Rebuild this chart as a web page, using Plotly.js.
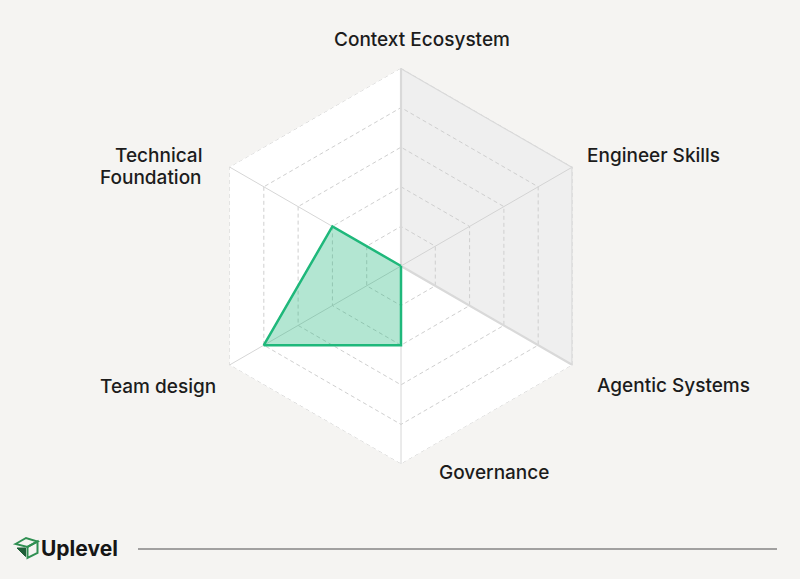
<!DOCTYPE html>
<html>
<head>
<meta charset="utf-8">
<script src="https://cdn.plot.ly/plotly-3.0.1.min.js"></script>
<style>
  html, body { margin: 0; padding: 0; background: #f5f4f2; }
  #chart { width: 800px; height: 579px; }
</style>
</head>
<body>
<div id="chart"></div>
<script>
// ---- Data ----
const categories = ["Context Ecosystem", "Engineer Skills", "Agentic Systems", "Governance", "Team design", "Technical Foundation"];
const categoryLabelLines = [["Context Ecosystem"], ["Engineer Skills"], ["Agentic Systems"], ["Governance"], ["Team design"], ["Technical", "Foundation"]];
const benchmarkValues = [5, 5, 5, 0, 0, 0];
const scoreValues = [0, 0, 0, 2, 4, 2];
const outerRing = [5, 5, 5, 5, 5, 5];
const radialMax = 5;
const brandName = "Uplevel";

// ---- Helpers ----
const W = 800, H = 579;
function close(arr) { return arr.concat([arr[0]]); }
function px(x, y) { return (x / W).toFixed(5) + "," + (1 - y / H).toFixed(5); }
function pathFrom(points, closed) {
  let s = "M" + px(points[0][0], points[0][1]);
  for (let i = 1; i < points.length; i++) s += " L" + px(points[i][0], points[i][1]);
  if (closed) s += " Z";
  return s;
}

const traces = [
  {
    type: "scatterpolar",
    r: close(outerRing),
    theta: close(categories),
    mode: "lines",
    line: { color: "#cdcdcd", width: 1, dash: "4px,3px" },
    hoverinfo: "skip",
    showlegend: false
  },
  {
    type: "scatterpolar",
    r: close(benchmarkValues),
    theta: close(categories),
    mode: "lines",
    fill: "toself",
    fillcolor: "rgba(205,205,205,0.33)",
    line: { color: "#d9d9d9", width: 2.2 },
    hoverinfo: "skip",
    showlegend: false
  },
  {
    type: "scatterpolar",
    r: close(scoreValues),
    theta: close(categories),
    mode: "lines",
    fill: "toself",
    fillcolor: "rgba(31,181,122,0.34)",
    line: { color: "#1fb87b", width: 2.5 },
    hoverinfo: "skip",
    showlegend: false
  }
];

// Label positions (pixel positions of first line)
const labelPos = [
  { x: 422, y: 39, xanchor: "center" },
  { x: 653, y: 155, xanchor: "center" },
  { x: 673, y: 385, xanchor: "center" },
  { x: 494, y: 472, xanchor: "center" },
  { x: 158, y: 386, xanchor: "center" },
  { x: 204, y: 155, xanchor: "right" }
];
const lineGap = 22;

const annotations = [];
categoryLabelLines.forEach((lines, i) => {
  lines.forEach((t, j) => {
    annotations.push({
      text: t,
      xref: "paper", yref: "paper",
      x: labelPos[i].x / W, y: 1 - (labelPos[i].y + j * lineGap) / H,
      xanchor: labelPos[i].xanchor, yanchor: "middle",
      showarrow: false,
      font: { family: "Inter, 'Open Sans', sans-serif", size: 19, weight: 500, color: "#1c1c1c" }
    });
  });
});

annotations.push({
  text: "<b>" + brandName + "</b>",
  xref: "paper", yref: "paper",
  x: 39 / W, y: 1 - 548 / H,
  xanchor: "left", yanchor: "middle",
  showarrow: false,
  font: { family: "Inter, 'Open Sans', sans-serif", size: 21, weight: 800, color: "#161616" }
});

const shapes = [
  // footer rule
  { type: "line", xref: "paper", yref: "paper",
    x0: 138 / W, x1: 777 / W, y0: 1 - 549 / H, y1: 1 - 549 / H,
    line: { color: "#858585", width: 1.5 } },
  // logo: top face
  { type: "path", xref: "paper", yref: "paper",
    path: pathFrom([[15.5, 544], [26, 538], [37.5, 541.5], [27.5, 547]], true),
    line: { color: "#2f8f52", width: 2 }, fillcolor: "rgba(0,0,0,0)" },
  // logo: right face
  { type: "path", xref: "paper", yref: "paper",
    path: pathFrom([[27.5, 547], [37.5, 541.5], [37.5, 553], [27.5, 558]], true),
    line: { color: "#2f8f52", width: 2 }, fillcolor: "rgba(0,0,0,0)" },
  // logo: dark triangle
  { type: "path", xref: "paper", yref: "paper",
    path: pathFrom([[17, 548], [25.5, 548], [25.5, 556.5]], true),
    line: { color: "#1f5f38", width: 1 }, fillcolor: "#1f5f38" }
];

const cx = 401, cy = 266, R = 198;
const layout = {
  width: W, height: H,
  margin: { l: 0, r: 0, t: 0, b: 0 },
  paper_bgcolor: "#f5f4f2",
  plot_bgcolor: "#f5f4f2",
  showlegend: false,
  polar: {
    domain: { x: [(cx - R) / W, (cx + R) / W], y: [(H - cy - R) / H, (H - cy + R) / H] },
    bgcolor: "#ffffff",
    gridshape: "linear",
    radialaxis: {
      range: [0, radialMax],
      dtick: 1,
      showticklabels: false,
      ticks: "",
      showline: false,
      gridcolor: "#cfcfcf",
      griddash: "4px,3px",
      gridwidth: 1
    },
    angularaxis: {
      rotation: 90,
      direction: "clockwise",
      showticklabels: false,
      ticks: "",
      showline: false,
      gridcolor: "#d6d6d6",
      gridwidth: 1
    }
  },
  annotations: annotations,
  shapes: shapes
};

Plotly.newPlot("chart", traces, layout, { displayModeBar: false, staticPlot: true });
</script>
</body>
</html>
